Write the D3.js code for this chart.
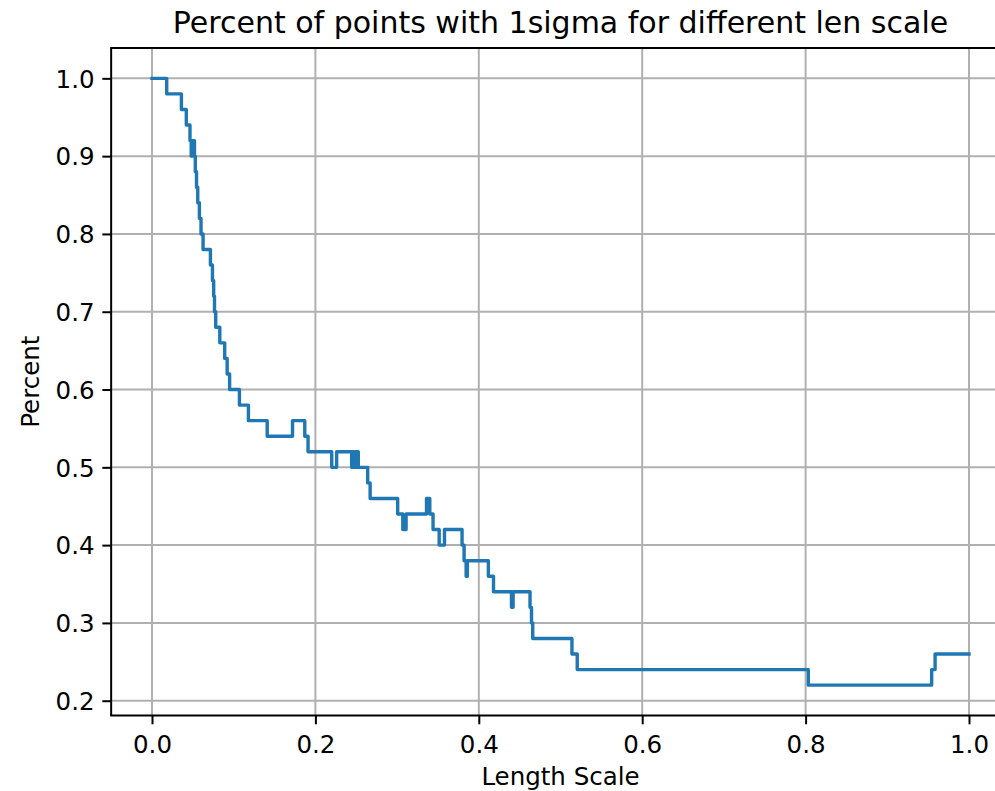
<!DOCTYPE html>
<html>
<head>
<meta charset="utf-8">
<script src="https://cdn.jsdelivr.net/npm/d3@7"></script>
<style>
  html, body { margin: 0; padding: 0; background: #fff; }
  svg { display: block; }
</style>
</head>
<body>
<svg id="chart" width="995" height="791"></svg>
<script>
// Step levels: each level starts at stepX[i] and holds stepY[i] until the next start.
const stepX = [
  0.000, 0.018, 0.036, 0.042, 0.0465, 0.048, 0.049, 0.050, 0.0505, 0.052,
  0.053, 0.0545, 0.056, 0.058, 0.060, 0.0625, 0.0715, 0.074, 0.0755, 0.0765,
  0.078, 0.083, 0.089, 0.092, 0.095, 0.107, 0.118, 0.141, 0.172, 0.187,
  0.191, 0.220, 0.226, 0.2444, 0.246, 0.247, 0.2485, 0.250, 0.2505, 0.2525,
  0.264, 0.267, 0.3007, 0.307, 0.311, 0.336, 0.340, 0.344, 0.3515, 0.358,
  0.3795, 0.382, 0.3845, 0.386, 0.4117, 0.418, 0.440, 0.442, 0.4627, 0.4645,
  0.466, 0.514, 0.5205, 0.8033, 0.9543, 0.9585
];
const stepY = [
  1.00, 0.98, 0.96, 0.94, 0.92, 0.90, 0.92, 0.90, 0.92, 0.90,
  0.88, 0.86, 0.84, 0.82, 0.80, 0.78, 0.76, 0.74, 0.72, 0.70,
  0.68, 0.66, 0.64, 0.62, 0.60, 0.58, 0.56, 0.54, 0.56, 0.54,
  0.52, 0.50, 0.52, 0.50, 0.52, 0.50, 0.52, 0.50, 0.52, 0.50,
  0.48, 0.46, 0.44, 0.42, 0.44, 0.46, 0.44, 0.42, 0.40, 0.42,
  0.40, 0.38, 0.36, 0.38, 0.36, 0.34, 0.32, 0.34, 0.32, 0.30,
  0.28, 0.26, 0.24, 0.22, 0.24, 0.26
];
const xEnd = 1.0;

const xTicks = [0.0, 0.2, 0.4, 0.6, 0.8, 1.0];
const yTicks = [0.2, 0.3, 0.4, 0.5, 0.6, 0.7, 0.8, 0.9, 1.0];

const titleText = "Percent of points with 1sigma for different len scale";
const xLabelText = "Length Scale";
const yLabelText = "Percent";

// Plot area
const plotLeft = 111.15, plotRight = 1009.85, plotTop = 48, plotBottom = 715.5;
const FONT = "DejaVu Sans, sans-serif";
const tickFs = 24.5, titleFs = 30;
const tickLen = 8.8, tickPad = 8.8;
const lw = 2.0;

const svg = d3.select("#chart");
svg.append("rect").attr("width", 995).attr("height", 791).attr("fill", "#fff");

const points = stepX.map((xv, i) => ({ x: xv, y: stepY[i] }));
points.push({ x: xEnd, y: stepY[stepY.length - 1] });

const xMin = d3.min(points, d => d.x), xMax = d3.max(points, d => d.x);
const yMin = d3.min(points, d => d.y), yMax = d3.max(points, d => d.y);
const xPad = (xMax - xMin) * 0.05, yPad = (yMax - yMin) * 0.05;

const x = d3.scaleLinear().domain([xMin - xPad, xMax + xPad]).range([plotLeft, plotRight]);
const y = d3.scaleLinear().domain([yMin - yPad, yMax + yPad]).range([plotBottom, plotTop]);

// Grid
const grid = svg.append("g");
grid.selectAll("line.vx").data(xTicks).join("line")
  .attr("class", "vx")
  .attr("x1", d => x(d)).attr("x2", d => x(d))
  .attr("y1", plotTop).attr("y2", plotBottom)
  .attr("stroke", "#b0b0b0").attr("stroke-width", lw);
grid.selectAll("line.hy").data(yTicks).join("line")
  .attr("class", "hy")
  .attr("x1", plotLeft).attr("x2", plotRight)
  .attr("y1", d => y(d)).attr("y2", d => y(d))
  .attr("stroke", "#b0b0b0").attr("stroke-width", lw);

// Series
const line = d3.line().x(d => x(d.x)).y(d => y(d.y)).curve(d3.curveStepAfter);
svg.append("path")
  .datum(points)
  .attr("d", line)
  .attr("fill", "none")
  .attr("stroke", "#1f77b4")
  .attr("stroke-width", 3.4)
  .attr("stroke-linejoin", "round")
  .attr("stroke-linecap", "square");

// Axes
const fmt = d3.format(".1f");
const gx = svg.append("g").attr("transform", `translate(0,${plotBottom})`)
  .call(d3.axisBottom(x).tickValues(xTicks).tickFormat(fmt).tickSize(tickLen).tickPadding(tickPad));
const gy = svg.append("g").attr("transform", `translate(${plotLeft},0)`)
  .call(d3.axisLeft(y).tickValues(yTicks).tickFormat(fmt).tickSize(tickLen).tickPadding(tickPad));

[gx, gy].forEach(g => {
  g.select(".domain").remove();
  g.selectAll(".tick line").attr("stroke", "#000").attr("stroke-width", lw);
  g.selectAll(".tick text").attr("fill", "#000")
    .style("font-family", FONT).style("font-size", tickFs + "px");
});
gx.selectAll(".tick text").attr("dy", null).attr("y", 37);
gy.selectAll(".tick text").attr("dy", "0.36em").attr("x", -(tickLen + tickPad - 1));

// Spines
const spines = svg.append("g").attr("stroke", "#000").attr("stroke-width", lw).attr("fill", "none");
spines.append("line").attr("x1", plotLeft).attr("x2", plotLeft).attr("y1", plotTop).attr("y2", plotBottom);
spines.append("line").attr("x1", plotRight).attr("x2", plotRight).attr("y1", plotTop).attr("y2", plotBottom);
spines.append("line").attr("x1", plotLeft - lw / 2).attr("x2", plotRight + lw / 2).attr("y1", plotTop).attr("y2", plotTop);
spines.append("line").attr("x1", plotLeft - lw / 2).attr("x2", plotRight + lw / 2).attr("y1", plotBottom).attr("y2", plotBottom);

// Titles
const cx = (plotLeft + plotRight) / 2, cy = (plotTop + plotBottom) / 2;
svg.append("text").attr("x", cx).attr("y", 33)
  .attr("text-anchor", "middle").style("font-family", FONT).style("font-size", titleFs + "px")
  .attr("fill", "#000").text(titleText);
svg.append("text").attr("x", cx).attr("y", 785)
  .attr("text-anchor", "middle").style("font-family", FONT).style("font-size", tickFs + "px")
  .attr("fill", "#000").text(xLabelText);
svg.append("text").attr("transform", `translate(39,${cy}) rotate(-90)`)
  .attr("text-anchor", "middle").style("font-family", FONT).style("font-size", tickFs + "px")
  .attr("fill", "#000").text(yLabelText);
</script>
</body>
</html>
